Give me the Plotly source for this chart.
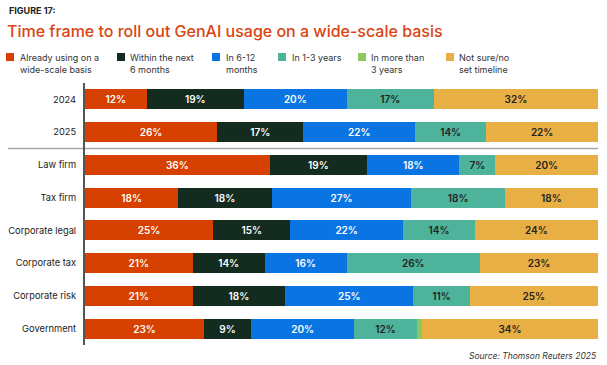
import plotly.graph_objects as go

categories = ["2024", "2025", "Law firm", "Tax firm", "Corporate legal",
              "Corporate tax", "Corporate risk", "Government"]
series_names = ["Already using on a<br>wide-scale basis", "Within the next<br>6 months",
                "In 6-12<br>months", "In 1-3 years", "In more than<br>3 years",
                "Not sure/no<br>set timeline"]
already = [12, 26, 36, 18, 25, 21, 21, 23]
next6 = [19, 17, 19, 18, 15, 14, 18, 9]
m6_12 = [20, 22, 18, 27, 22, 16, 25, 20]
y1_3 = [17, 14, 7, 18, 14, 26, 11, 12]
more3 = [0, 0, 0, 0, 0, 0, 0, 1]
notsure = [32, 22, 20, 18, 24, 23, 25, 34]

series_values = [already, next6, m6_12, y1_3, more3, notsure]
colors = ["#D64000", "#142B20", "#0A74E3", "#4DB39A", "#8DC85D", "#E8AF45"]
text_colors = ["white", "white", "white", "#222222", "#222222", "#222222"]

FONT = "Inter"
W, H = 607, 365
ML, MR, MT, MB = 85, 9, 83, 20
PW, PH = W - ML - MR, H - MT - MB


def px_x(px):
    return (px - ML) / PW


def px_y(py):
    return (H - MB - py) / PH


fig = go.Figure()
for name, vals, col, tcol in zip(series_names, series_values, colors, text_colors):
    fig.add_trace(go.Bar(
        y=categories, x=vals, orientation="h", name=name.replace("<br>", " "),
        marker=dict(color=col, line=dict(width=0)),
        text=[f"{v}%" if v >= 5 else "" for v in vals],
        textposition="inside", insidetextanchor="middle", textangle=0,
        textfont=dict(family=FONT, size=10, color=tcol, weight=600),
        showlegend=False, hoverinfo="skip",
    ))

fig.update_layout(
    barmode="stack", barnorm="percent", bargap=0.39,
    width=W, height=H,
    margin=dict(l=ML, r=MR, t=MT, b=MB, pad=0, autoexpand=False),
    paper_bgcolor="white", plot_bgcolor="white",
    font=dict(family=FONT, color="#222222"),
    title=dict(text="Time frame to roll out GenAI usage on a wide-scale basis",
               xref="container", yref="container", x=7 / W, xanchor="left",
               y=1 - 31 / H, yanchor="middle",
               font=dict(family=FONT, size=16, color="#D94512", weight=500)),
    xaxis=dict(range=[0, 100], visible=False, fixedrange=True),
    yaxis=dict(autorange="reversed", showline=True, linecolor="#555555", linewidth=2,
               ticks="", tickfont=dict(family=FONT, size=9.3, color="#222222"),
               ticklabelstandoff=5, showgrid=False, zeroline=False, automargin=False,
               fixedrange=True),
)

# separator line between years and segments
fig.add_shape(type="line", xref="paper", yref="y", x0=px_x(8), x1=1,
              y0=1.5, y1=1.5, line=dict(color="#AAAAAA", width=1.5), layer="below")

annotations = [dict(text="<b>FIGURE 17:</b>", xref="paper", yref="paper",
                    x=px_x(7), y=px_y(10), xanchor="left", yanchor="middle",
                    showarrow=False, font=dict(family=FONT, size=9, color="#222222"))]

marker_px = [6, 117, 212, 278, 358, 446]
text_px = [18, 128, 224, 290, 369, 457]
for name, col, mx, tx in zip(series_names, colors, marker_px, text_px):
    fig.add_shape(type="rect", xref="paper", yref="paper",
                  x0=px_x(mx), x1=px_x(mx + 8), y0=px_y(61), y1=px_y(53),
                  fillcolor=col, line=dict(width=0))
    annotations.append(dict(text=name, xref="paper", yref="paper",
                            x=px_x(tx), y=px_y(50), xanchor="left", yanchor="top",
                            align="left", showarrow=False,
                            font=dict(family=FONT, size=9, color="#333333")))

annotations.append(dict(text="<i>Source: Thomson Reuters 2025</i>", xref="paper", yref="paper",
                        x=px_x(598), y=px_y(356), xanchor="right", yanchor="middle",
                        showarrow=False, font=dict(family=FONT, size=8.5, color="#333333")))
fig.update_layout(annotations=annotations)

fig.write_html("out.html", config={"displayModeBar": False, "staticPlot": True},
               post_script="document.body.style.margin='0';document.body.style.overflow='hidden';")
